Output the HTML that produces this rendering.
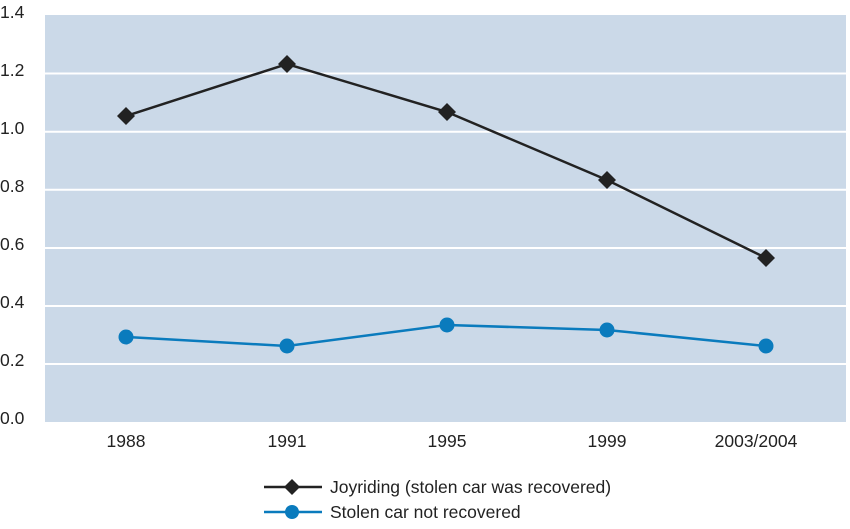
<!DOCTYPE html>
<html><head><style>
body{margin:0;background:#fff;}
svg text{font-family:"Liberation Sans",sans-serif;font-size:17.5px;fill:#222;}
</style></head><body>
<svg width="850" height="524" xmlns="http://www.w3.org/2000/svg">
<rect x="45" y="15" width="801" height="407" fill="#cbd9e8"/>
<g stroke="#fff" stroke-width="2">
<line x1="45" y1="73.5" x2="846" y2="73.5"/>
<line x1="45" y1="131.7" x2="846" y2="131.7"/>
<line x1="45" y1="189.8" x2="846" y2="189.8"/>
<line x1="45" y1="248" x2="846" y2="248"/>
<line x1="45" y1="306" x2="846" y2="306"/>
<line x1="45" y1="364" x2="846" y2="364"/>
</g>
<g>
<text x="0" y="18">1.4</text>
<text x="0" y="76">1.2</text>
<text x="0" y="134">1.0</text>
<text x="0" y="192">0.8</text>
<text x="0" y="250">0.6</text>
<text x="0" y="308">0.4</text>
<text x="0" y="366">0.2</text>
<text x="0" y="424">0.0</text>
</g>
<g text-anchor="middle">
<text x="126" y="447">1988</text>
<text x="287" y="447">1991</text>
<text x="447" y="447">1995</text>
<text x="607" y="447">1999</text>
<text x="756" y="447">2003/2004</text>
</g>
<polyline points="126,116 287,64 447,112 607,180 766,258" fill="none" stroke="#222" stroke-width="2.5"/>
<g fill="#222">
<polygon points="126,107 135,116 126,125 117,116"/>
<polygon points="287,55 296,64 287,73 278,64"/>
<polygon points="447,103 456,112 447,121 438,112"/>
<polygon points="607,171 616,180 607,189 598,180"/>
<polygon points="766,249 775,258 766,267 757,258"/>
</g>
<polyline points="126,337 287,346 447,325 607,330 766,346" fill="none" stroke="#0a7bbd" stroke-width="2.5"/>
<g fill="#0a7bbd">
<circle cx="126" cy="337" r="7.5"/><circle cx="287" cy="346" r="7.5"/><circle cx="447" cy="325" r="7.5"/><circle cx="607" cy="330" r="7.5"/><circle cx="766" cy="346" r="7.5"/>
</g>
<line x1="264" y1="487" x2="322" y2="487" stroke="#222" stroke-width="2.5"/>
<polygon points="292,479 300,487 292,495 284,487" fill="#222"/>
<text x="330" y="493">Joyriding (stolen car was recovered)</text>
<line x1="264" y1="512" x2="322" y2="512" stroke="#0a7bbd" stroke-width="2.5"/>
<circle cx="292" cy="512" r="7" fill="#0a7bbd"/>
<text x="330" y="518">Stolen car not recovered</text>
</svg>
</body></html>
